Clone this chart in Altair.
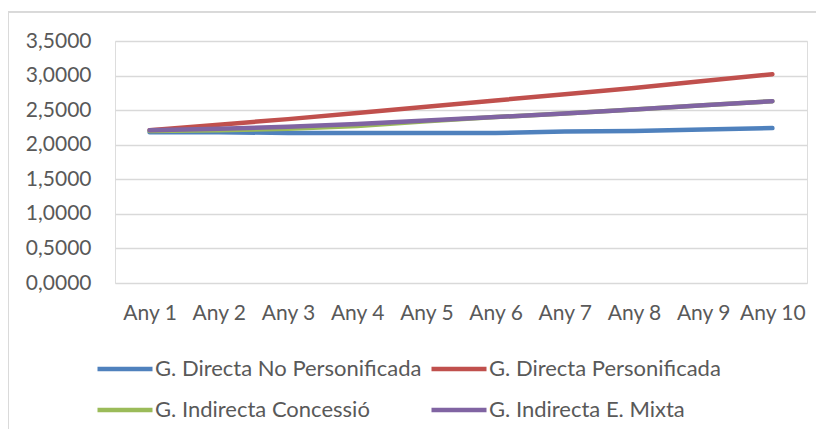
import altair as alt
import pandas as pd

years = ["Any 1", "Any 2", "Any 3", "Any 4", "Any 5", "Any 6", "Any 7", "Any 8", "Any 9", "Any 10"]
series_names = [
    "G. Directa No Personificada",
    "G. Directa Personificada",
    "G. Indirecta Concessió",
    "G. Indirecta E. Mixta",
]
directa_no_pers = [2.18, 2.18, 2.17, 2.17, 2.17, 2.17, 2.19, 2.20, 2.22, 2.24]
directa_pers = [2.21, 2.29, 2.37, 2.46, 2.55, 2.64, 2.73, 2.82, 2.92, 3.02]
indirecta_conc = [2.20, 2.21, 2.23, 2.27, 2.34, 2.40, 2.45, 2.51, 2.57, 2.63]
indirecta_mixta = [2.21, 2.23, 2.26, 2.30, 2.35, 2.40, 2.45, 2.51, 2.57, 2.63]
colors = ["#4F81BD", "#C0504D", "#9BBB59", "#8064A2"]
y_ticks = [0, 0.5, 1.0, 1.5, 2.0, 2.5, 3.0, 3.5]

rows = []
for name, vals in zip(series_names, [directa_no_pers, directa_pers, indirecta_conc, indirecta_mixta]):
    for i, (yr, v) in enumerate(zip(years, vals)):
        rows.append({"year": yr, "value": v, "series": name, "order": series_names.index(name)})
df = pd.DataFrame(rows)

FONT = "Lato"
TXT = "#595959"
FS = 21

lines = alt.Chart(df).mark_line(strokeWidth=4.5, strokeCap="round").encode(
    x=alt.X("year:N", sort=years, title=None,
            axis=alt.Axis(labelAngle=0, domain=False, ticks=False, labelPadding=19,
                          labelFontSize=FS, labelColor=TXT, labelFont=FONT, grid=False)),
    y=alt.Y("value:Q", title=None,
            scale=alt.Scale(domain=[0, 3.5], nice=False),
            axis=alt.Axis(values=y_ticks, domain=False, ticks=False,
                          labelPadding=24, labelFontSize=FS, labelColor=TXT, labelFont=FONT,
                          gridColor="#d9d9d9", gridWidth=1.5,
                          labelExpr="replace(format(datum.value, '.4f'), '.', ',')")),
    color=alt.Color("series:N", sort=series_names,
                    scale=alt.Scale(domain=series_names, range=colors),
                    legend=alt.Legend(title=None, orient="none", legendX=-20, legendY=298,
                                      direction="horizontal",
                                      columns=2, symbolType="stroke", symbolSize=3025,
                                      symbolStrokeWidth=4.5, labelFontSize=22, labelColor=TXT,
                                      labelFont=FONT, labelOffset=0, rowPadding=-9,
                                      columnPadding=0, padding=0, labelLimit=400)),
    order=alt.Order("order:Q"),
    detail="series:N",
)

border_top = alt.Chart(df).mark_rule(color="#d9d9d9", strokeWidth=1).encode(
    x=alt.value(-107), x2=alt.value(800), y=alt.value(-29))
border_left = alt.Chart(df).mark_rule(color="#d9d9d9", strokeWidth=1).encode(
    x=alt.value(-107), y=alt.value(-29), y2=alt.value(400))

chart = alt.layer(border_top, border_left, lines).properties(
    width=692, height=242,
    padding={"left": 107, "top": 33, "right": 9, "bottom": 146},
    autosize=alt.AutoSizeParams(type="none"),
).configure_view(stroke=None).configure(background="white")

chart.save("out.html", embed_options={"renderer": "svg", "actions": False})
